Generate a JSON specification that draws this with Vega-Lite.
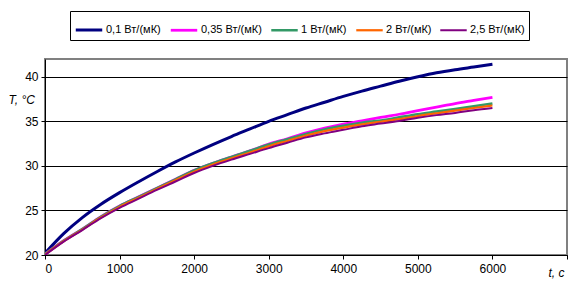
{
  "$schema": "https://vega.github.io/schema/vega-lite/v6.json",
  "width": 522,
  "height": 196,
  "autosize": "none",
  "padding": {"left": 45, "top": 59, "right": 3, "bottom": 29},
  "background": "white",
  "config": {
    "font": "Liberation Sans",
    "view": {"stroke": "#808080", "strokeWidth": 2},
    "axis": {"labelFont": "Liberation Sans", "labelFontSize": 12, "labelColor": "black", "domainColor": "black", "tickColor": "black", "gridColor": "black", "gridOpacity": 1, "gridWidth": 1}
  },
  "data": {
    "values": [
      {"t": 0, "T": 20.2, "k": "0,1 Вт/(мК)"},
      {"t": 250, "T": 22.4, "k": "0,1 Вт/(мК)"},
      {"t": 500, "T": 24.2, "k": "0,1 Вт/(мК)"},
      {"t": 750, "T": 25.7, "k": "0,1 Вт/(мК)"},
      {"t": 1000, "T": 27.0, "k": "0,1 Вт/(мК)"},
      {"t": 1250, "T": 28.2, "k": "0,1 Вт/(мК)"},
      {"t": 1500, "T": 29.35, "k": "0,1 Вт/(мК)"},
      {"t": 1750, "T": 30.45, "k": "0,1 Вт/(мК)"},
      {"t": 2000, "T": 31.45, "k": "0,1 Вт/(мК)"},
      {"t": 2250, "T": 32.4, "k": "0,1 Вт/(мК)"},
      {"t": 2500, "T": 33.3, "k": "0,1 Вт/(мК)"},
      {"t": 2750, "T": 34.15, "k": "0,1 Вт/(мК)"},
      {"t": 3000, "T": 35.0, "k": "0,1 Вт/(мК)"},
      {"t": 3250, "T": 35.75, "k": "0,1 Вт/(мК)"},
      {"t": 3500, "T": 36.5, "k": "0,1 Вт/(мК)"},
      {"t": 3750, "T": 37.15, "k": "0,1 Вт/(мК)"},
      {"t": 4000, "T": 37.8, "k": "0,1 Вт/(мК)"},
      {"t": 4250, "T": 38.4, "k": "0,1 Вт/(мК)"},
      {"t": 4500, "T": 38.95, "k": "0,1 Вт/(мК)"},
      {"t": 4750, "T": 39.5, "k": "0,1 Вт/(мК)"},
      {"t": 5000, "T": 40.0, "k": "0,1 Вт/(мК)"},
      {"t": 5250, "T": 40.45, "k": "0,1 Вт/(мК)"},
      {"t": 5500, "T": 40.8, "k": "0,1 Вт/(мК)"},
      {"t": 5750, "T": 41.1, "k": "0,1 Вт/(мК)"},
      {"t": 6000, "T": 41.4, "k": "0,1 Вт/(мК)"},

      {"t": 0, "T": 20.1, "k": "0,35 Вт/(мК)"},
      {"t": 250, "T": 21.6, "k": "0,35 Вт/(мК)"},
      {"t": 500, "T": 22.9, "k": "0,35 Вт/(мК)"},
      {"t": 750, "T": 24.3, "k": "0,35 Вт/(мК)"},
      {"t": 1000, "T": 25.5, "k": "0,35 Вт/(мК)"},
      {"t": 1250, "T": 26.5, "k": "0,35 Вт/(мК)"},
      {"t": 1500, "T": 27.5, "k": "0,35 Вт/(мК)"},
      {"t": 1750, "T": 28.5, "k": "0,35 Вт/(мК)"},
      {"t": 2000, "T": 29.5, "k": "0,35 Вт/(мК)"},
      {"t": 2250, "T": 30.3, "k": "0,35 Вт/(мК)"},
      {"t": 2500, "T": 31.0, "k": "0,35 Вт/(мК)"},
      {"t": 2750, "T": 31.7, "k": "0,35 Вт/(мК)"},
      {"t": 3000, "T": 32.45, "k": "0,35 Вт/(мК)"},
      {"t": 3250, "T": 33.05, "k": "0,35 Вт/(мК)"},
      {"t": 3500, "T": 33.7, "k": "0,35 Вт/(мК)"},
      {"t": 3750, "T": 34.25, "k": "0,35 Вт/(мК)"},
      {"t": 4000, "T": 34.7, "k": "0,35 Вт/(мК)"},
      {"t": 4250, "T": 35.05, "k": "0,35 Вт/(мК)"},
      {"t": 4500, "T": 35.45, "k": "0,35 Вт/(мК)"},
      {"t": 4750, "T": 35.8, "k": "0,35 Вт/(мК)"},
      {"t": 5000, "T": 36.2, "k": "0,35 Вт/(мК)"},
      {"t": 5250, "T": 36.6, "k": "0,35 Вт/(мК)"},
      {"t": 5500, "T": 37.0, "k": "0,35 Вт/(мК)"},
      {"t": 5750, "T": 37.35, "k": "0,35 Вт/(мК)"},
      {"t": 6000, "T": 37.7, "k": "0,35 Вт/(мК)"},

      {"t": 0, "T": 20.1, "k": "1 Вт/(мК)"},
      {"t": 250, "T": 21.6, "k": "1 Вт/(мК)"},
      {"t": 500, "T": 22.9, "k": "1 Вт/(мК)"},
      {"t": 750, "T": 24.3, "k": "1 Вт/(мК)"},
      {"t": 1000, "T": 25.5, "k": "1 Вт/(мК)"},
      {"t": 1250, "T": 26.5, "k": "1 Вт/(мК)"},
      {"t": 1500, "T": 27.5, "k": "1 Вт/(мК)"},
      {"t": 1750, "T": 28.5, "k": "1 Вт/(мК)"},
      {"t": 2000, "T": 29.5, "k": "1 Вт/(мК)"},
      {"t": 2250, "T": 30.3, "k": "1 Вт/(мК)"},
      {"t": 2500, "T": 31.0, "k": "1 Вт/(мК)"},
      {"t": 2750, "T": 31.7, "k": "1 Вт/(мК)"},
      {"t": 3000, "T": 32.4, "k": "1 Вт/(мК)"},
      {"t": 3250, "T": 33.0, "k": "1 Вт/(мК)"},
      {"t": 3500, "T": 33.6, "k": "1 Вт/(мК)"},
      {"t": 3750, "T": 34.1, "k": "1 Вт/(мК)"},
      {"t": 4000, "T": 34.5, "k": "1 Вт/(мК)"},
      {"t": 4250, "T": 34.85, "k": "1 Вт/(мК)"},
      {"t": 4500, "T": 35.1, "k": "1 Вт/(мК)"},
      {"t": 4750, "T": 35.45, "k": "1 Вт/(мК)"},
      {"t": 5000, "T": 35.8, "k": "1 Вт/(мК)"},
      {"t": 5250, "T": 36.1, "k": "1 Вт/(мК)"},
      {"t": 5500, "T": 36.4, "k": "1 Вт/(мК)"},
      {"t": 5750, "T": 36.7, "k": "1 Вт/(мК)"},
      {"t": 6000, "T": 37.0, "k": "1 Вт/(мК)"},

      {"t": 0, "T": 20.05, "k": "2 Вт/(мК)"},
      {"t": 250, "T": 21.55, "k": "2 Вт/(мК)"},
      {"t": 500, "T": 22.85, "k": "2 Вт/(мК)"},
      {"t": 750, "T": 24.2, "k": "2 Вт/(мК)"},
      {"t": 1000, "T": 25.4, "k": "2 Вт/(мК)"},
      {"t": 1250, "T": 26.4, "k": "2 Вт/(мК)"},
      {"t": 1500, "T": 27.4, "k": "2 Вт/(мК)"},
      {"t": 1750, "T": 28.4, "k": "2 Вт/(мК)"},
      {"t": 2000, "T": 29.35, "k": "2 Вт/(мК)"},
      {"t": 2250, "T": 30.15, "k": "2 Вт/(мК)"},
      {"t": 2500, "T": 30.85, "k": "2 Вт/(мК)"},
      {"t": 2750, "T": 31.5, "k": "2 Вт/(мК)"},
      {"t": 3000, "T": 32.2, "k": "2 Вт/(мК)"},
      {"t": 3250, "T": 32.8, "k": "2 Вт/(мК)"},
      {"t": 3500, "T": 33.4, "k": "2 Вт/(мК)"},
      {"t": 3750, "T": 33.9, "k": "2 Вт/(мК)"},
      {"t": 4000, "T": 34.3, "k": "2 Вт/(мК)"},
      {"t": 4250, "T": 34.65, "k": "2 Вт/(мК)"},
      {"t": 4500, "T": 34.95, "k": "2 Вт/(мК)"},
      {"t": 4750, "T": 35.25, "k": "2 Вт/(мК)"},
      {"t": 5000, "T": 35.6, "k": "2 Вт/(мК)"},
      {"t": 5250, "T": 35.9, "k": "2 Вт/(мК)"},
      {"t": 5500, "T": 36.2, "k": "2 Вт/(мК)"},
      {"t": 5750, "T": 36.5, "k": "2 Вт/(мК)"},
      {"t": 6000, "T": 36.78, "k": "2 Вт/(мК)"},

      {"t": 0, "T": 20.0, "k": "2,5 Вт/(мК)"},
      {"t": 250, "T": 21.5, "k": "2,5 Вт/(мК)"},
      {"t": 500, "T": 22.8, "k": "2,5 Вт/(мК)"},
      {"t": 750, "T": 24.15, "k": "2,5 Вт/(мК)"},
      {"t": 1000, "T": 25.3, "k": "2,5 Вт/(мК)"},
      {"t": 1250, "T": 26.3, "k": "2,5 Вт/(мК)"},
      {"t": 1500, "T": 27.3, "k": "2,5 Вт/(мК)"},
      {"t": 1750, "T": 28.25, "k": "2,5 Вт/(мК)"},
      {"t": 2000, "T": 29.2, "k": "2,5 Вт/(мК)"},
      {"t": 2250, "T": 30.0, "k": "2,5 Вт/(мК)"},
      {"t": 2500, "T": 30.7, "k": "2,5 Вт/(мК)"},
      {"t": 2750, "T": 31.35, "k": "2,5 Вт/(мК)"},
      {"t": 3000, "T": 32.0, "k": "2,5 Вт/(мК)"},
      {"t": 3250, "T": 32.6, "k": "2,5 Вт/(мК)"},
      {"t": 3500, "T": 33.2, "k": "2,5 Вт/(мК)"},
      {"t": 3750, "T": 33.65, "k": "2,5 Вт/(мК)"},
      {"t": 4000, "T": 34.05, "k": "2,5 Вт/(мК)"},
      {"t": 4250, "T": 34.45, "k": "2,5 Вт/(мК)"},
      {"t": 4500, "T": 34.75, "k": "2,5 Вт/(мК)"},
      {"t": 4750, "T": 35.05, "k": "2,5 Вт/(мК)"},
      {"t": 5000, "T": 35.4, "k": "2,5 Вт/(мК)"},
      {"t": 5250, "T": 35.7, "k": "2,5 Вт/(мК)"},
      {"t": 5500, "T": 35.95, "k": "2,5 Вт/(мК)"},
      {"t": 5750, "T": 36.25, "k": "2,5 Вт/(мК)"},
      {"t": 6000, "T": 36.5, "k": "2,5 Вт/(мК)"}
    ]
  },
  "mark": {"type": "line", "clip": true, "interpolate": "monotone"},
  "encoding": {
    "x": {
      "field": "t", "type": "quantitative",
      "scale": {"domain": [0, 7000], "nice": false},
      "axis": {"values": [0, 1000, 2000, 3000, 4000, 5000, 6000, 7000], "labelExpr": "datum.value == 7000 ? '' : datum.label", "grid": false, "format": "d", "tickSize": 4, "labelPadding": 4,
        "title": "t, c", "titleFont": "Liberation Sans", "titleFontSize": 12, "titleFontStyle": "italic", "titleFontWeight": "normal", "titleColor": "black", "titleX": 503, "titleY": 24, "titleAlign": "left", "titleBaseline": "bottom"}
    },
    "y": {
      "field": "T", "type": "quantitative",
      "scale": {"domain": [20, 42], "nice": false, "zero": false},
      "axis": {"values": [20, 25, 30, 35, 40], "grid": true, "tickSize": 4, "labelPadding": 3,
        "title": "T, °C", "titleFont": "Liberation Sans", "titleFontSize": 12, "titleFontStyle": "italic", "titleFontWeight": "normal", "titleColor": "black", "titleAngle": 0, "titleX": -37, "titleY": 40, "titleAlign": "left", "titleBaseline": "middle"}
    },
    "color": {
      "field": "k", "type": "nominal",
      "scale": {"domain": ["0,1 Вт/(мК)", "0,35 Вт/(мК)", "1 Вт/(мК)", "2 Вт/(мК)", "2,5 Вт/(мК)"], "range": ["#000080", "#FF00FF", "#339966", "#FF6600", "#800080"]},
      "legend": {"orient": "none", "legendX": 25, "legendY": -48, "direction": "horizontal", "title": null,
        "strokeColor": "black", "padding": 4, "fillColor": "white",
        "symbolType": "stroke", "symbolSize": 700, "symbolStrokeWidth": 3,
        "labelFont": "Liberation Sans", "labelFontSize": 11, "labelColor": "black", "labelOffset": 2, "columnPadding": 4}
    },
    "strokeWidth": {
      "field": "k", "type": "nominal",
      "scale": {"domain": ["0,1 Вт/(мК)", "0,35 Вт/(мК)", "1 Вт/(мК)", "2 Вт/(мК)", "2,5 Вт/(мК)"], "range": [3, 2, 3, 2, 3.5]},
      "legend": null
    }
  }
}
